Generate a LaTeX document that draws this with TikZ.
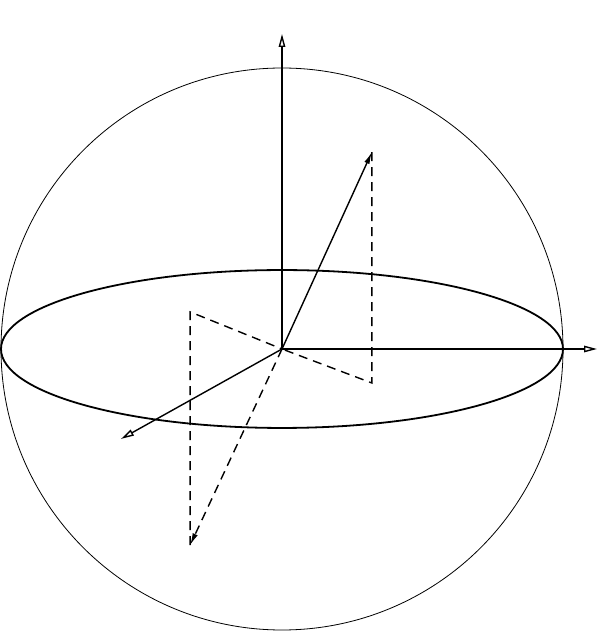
\documentclass[tikz,border=0pt]{standalone}
\usepackage{amsmath}
\usepackage{amssymb}
\usetikzlibrary{arrows.meta}

\begin{document}
\begin{tikzpicture}[x=28.1pt,y=28.1pt]
        \useasboundingbox (-10.036,-10.036) rectangle (11.673,12.42);
        \coordinate (O) at (0,0);
        \coordinate (X) at (11.21,0);
        \coordinate (Y) at (-5.73,-3.20);
        \coordinate (Z) at (0,11.21);
        \coordinate (P) at (3.20,7.01);
        \coordinate (Pf) at (3.20,-1.21);
        \coordinate (Q) at (-3.27,-6.98);
        \coordinate (Qf) at (-3.27,1.32);

        \draw[line width=0.8pt] (O) circle (10);
        \draw[line width=1.8pt] (O) ellipse (10 and 2.81);

        \draw[line width=1.4pt,-{Triangle[open,length=13pt,width=6.5pt]}] (O) -- (Z);
        \draw[line width=1.4pt,-{Triangle[open,length=13pt,width=6.5pt]}] (O) -- (X);
        \draw[line width=1.4pt,-{Triangle[open,length=13pt,width=6.5pt]}] (O) -- (Y);

        \draw[line width=1.4pt,-{Latex[length=12pt,width=5.5pt]}] (O) -- (P);
        \draw[line width=1.4pt,dash pattern=on 9pt off 6pt] (P) -- (Pf) -- (O);

        \draw[line width=1.4pt,dash pattern=on 9pt off 6pt,-{Latex[length=12pt,width=5.5pt]}] (O) -- (Q);
        \draw[line width=1.4pt,dash pattern=on 9pt off 6pt] (Q) -- (Qf) -- (O);
    \end{tikzpicture}
\end{document}
